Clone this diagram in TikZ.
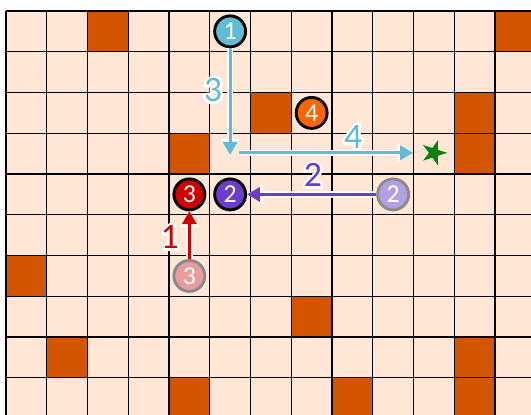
\documentclass[tikz,border=0pt]{standalone}
\usepackage{fontspec}
\setmainfont{Carlito}
\newfontfamily\haloface[FakeBold=14]{Carlito}
\usetikzlibrary{arrows.meta,shapes.geometric}
\definecolor{floorcol}{HTML}{FFE6D5}
\definecolor{wallcol}{HTML}{D45500}
\definecolor{bluecol}{HTML}{60BCD6}
\definecolor{orangecol}{HTML}{FF6600}
\definecolor{redcol}{HTML}{D00000}
\definecolor{purplecol}{HTML}{6E3CCB}
\definecolor{fadepurple}{HTML}{B3A0E4}
\definecolor{fadered}{HTML}{E89C9C}
\definecolor{ringgrey}{HTML}{8A8A8A}
\definecolor{starcol}{HTML}{0A820A}

\begin{document}
\begin{tikzpicture}[x=1cm, y=1cm,
      agent/.style={circle, draw=black, line width=2pt, fill=#1,
                    minimum size=0.76cm, inner sep=0pt, text=white,
                    font=\fontsize{18}{18}\selectfont},
      ghost/.style={agent=#1, draw=ringgrey},
      arr/.style={draw=#1, line width=2pt, -{Triangle[length=9pt,width=10pt]},
                  preaction={draw=white, line width=4.5pt,
                             -{Triangle[length=11pt,width=13pt]}}},
      movenum/.style={font=\fontsize{25}{25}\selectfont, inner sep=0pt, text=#1},
      movehalo/.style={font=\haloface\fontsize{25}{25}\selectfont, inner sep=0pt, text=white}]

    \clip (-0.147,0.27) rectangle (12.883,-9.89);
    \fill[white] (-0.147,0.27) rectangle (12.883,-9.89);

    % floor and walls
    \fill[floorcol] (0,0) rectangle (14,-11);
    \foreach \c/\r in {2/0, 12/0, 6/2, 11/2, 4/3, 11/3, 0/6, 7/7,
                       1/8, 11/8, 4/9, 8/9, 11/9}
      \fill[wallcol] (\c,-\r) rectangle ++(1,-1);
    \draw[line width=1pt] (0,-11) grid[step=1] (14,0);

    % agents
    \node[agent=bluecol]   (b1)  at (5.5,-0.5) {1};
    \node[agent=orangecol] (o4)  at (7.5,-2.5) {4};
    \node[agent=redcol]    (r3)  at (4.5,-4.5) {3};
    \node[agent=purplecol] (p2)  at (5.5,-4.5) {2};
    \node[ghost=fadepurple] (p2old) at (9.5,-4.5) {2};
    \node[ghost=fadered]    (r3old) at (4.5,-6.5) {3};
    \node[star, star points=5, star point ratio=2.7, fill=starcol,
          minimum size=0.66cm, inner sep=0pt, rotate=-18] (goal) at (10.5,-3.48) {};

    \coordinate (bturn) at (5.5,-3.53);
    \coordinate (bstart) at (5.72,-3.48);
    \coordinate (bend) at (9.99,-3.48);

    % moves
    \draw[arr=bluecol] (b1.south) -- (bturn);
    \draw[arr=bluecol] (bstart) -- (bend);
    \draw[arr=purplecol] (p2old.west) -- (p2.east);
    \draw[arr=redcol] (r3old.north) -- (r3.south);

    \foreach \x/\y/\num/\col in {5.08/-1.94/3/bluecol, 8.52/-3.09/4/bluecol,
                                 7.53/-4.02/2/purplecol, 4.02/-5.55/1/redcol}
    {
      \node[movehalo] at (\x,\y) {\num};
      \node[movenum=\col] at (\x,\y) {\num};
    }
  \end{tikzpicture}
\end{document}
